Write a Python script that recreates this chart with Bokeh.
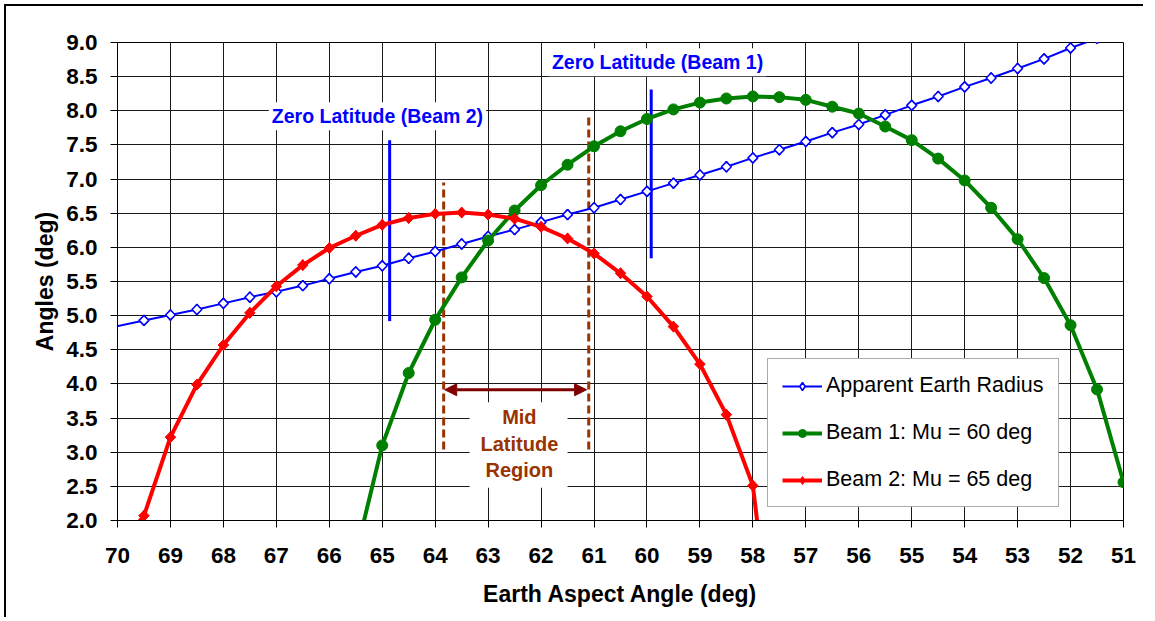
import math
from bokeh.plotting import figure
from bokeh.models import (Range1d, FixedTicker, Label, Arrow, NormalHead, Legend,
                          LegendItem, NumeralTickFormatter, BoxAnnotation)
from bokeh.embed import file_html
from bokeh.resources import INLINE

# ---------------- data ----------------
radius_x = [70.5, 69.5, 69.0, 68.5, 68.0, 67.5, 67.0, 66.5, 66.0, 65.5, 65.0, 64.5, 64.0,
            63.5, 63.0, 62.5, 62.0, 61.5, 61.0, 60.5, 60.0, 59.5, 59.0, 58.5, 58.0, 57.5,
            57.0, 56.5, 56.0, 55.5, 55.0, 54.5, 54.0, 53.5, 53.0, 52.5, 52.0, 51.5, 51.0]
radius_y = [4.76, 4.93, 5.01, 5.09, 5.18, 5.27, 5.35, 5.44, 5.54, 5.64, 5.73, 5.84, 5.94,
            6.05, 6.16, 6.26, 6.37, 6.48, 6.58, 6.70, 6.82, 6.94, 7.06, 7.18, 7.31, 7.43,
            7.55, 7.68, 7.80, 7.94, 8.08, 8.21, 8.35, 8.48, 8.62, 8.76, 8.92, 9.06, 9.21]

beam1_x = [65.5, 65.0, 64.5, 64.0, 63.5, 63.0, 62.5, 62.0, 61.5, 61.0, 60.5, 60.0, 59.5,
           59.0, 58.5, 58.0, 57.5, 57.0, 56.5, 56.0, 55.5, 55.0, 54.5, 54.0, 53.5, 53.0,
           52.5, 52.0, 51.5, 51.0]
beam1_y = [1.50, 3.10, 4.16, 4.94, 5.56, 6.10, 6.54, 6.91, 7.21, 7.48, 7.70, 7.88, 8.02,
           8.12, 8.18, 8.21, 8.20, 8.16, 8.06, 7.96, 7.77, 7.57, 7.30, 6.98, 6.58, 6.12,
           5.55, 4.86, 3.92, 2.56]

beam2_x = [70.0, 69.5, 69.0, 68.5, 68.0, 67.5, 67.0, 66.5, 66.0, 65.5, 65.0, 64.5, 64.0,
           63.5, 63.0, 62.5, 62.0, 61.5, 61.0, 60.5, 60.0, 59.5, 59.0, 58.5, 58.0, 57.5]
beam2_y = [1.60, 2.07, 3.22, 3.99, 4.57, 5.04, 5.43, 5.74, 5.99, 6.17, 6.33, 6.43, 6.49,
           6.51, 6.48, 6.42, 6.30, 6.13, 5.91, 5.62, 5.28, 4.84, 4.29, 3.55, 2.51, -0.70]

x_ticks = [70, 69, 68, 67, 66, 65, 64, 63, 62, 61, 60, 59, 58, 57, 56, 55, 54, 53, 52, 51]
y_ticks = [2.0, 2.5, 3.0, 3.5, 4.0, 4.5, 5.0, 5.5, 6.0, 6.5, 7.0, 7.5, 8.0, 8.5, 9.0]

series_names = ["Apparent Earth Radius", "Beam 1: Mu = 60 deg", "Beam 2: Mu = 65 deg"]

# zero-latitude markers and mid-latitude bounds (x positions, y extents)
zero_lat_x = [64.86, 59.92]
zero_lat_y0 = [4.92, 5.84]
zero_lat_y1 = [7.57, 8.31]
mid_lat_x = [63.84, 61.10]
mid_lat_y0 = [3.04, 3.04]
mid_lat_y1 = [6.95, 7.96]

FONT = "Liberation Sans"
BLUE, GREEN, RED = "#0000FF", "#008000", "#FF0000"
BROWN, DARKRED = "#993300", "#800000"

p = figure(width=1139, height=613, output_backend="svg", toolbar_location=None,
           x_range=Range1d(70, 51), y_range=Range1d(2.0, 9.0),
           min_border_left=111, min_border_right=22, min_border_top=36, min_border_bottom=99)
p.margin = (4, 0, 0, 4)
p.styles = {"border-left": "2px solid black", "border-top": "2px solid black"}

p.background_fill_color = "white"
p.border_fill_color = "white"
p.outline_line_color = "black"
p.outline_line_width = 1

for ax in (p.xaxis[0], p.yaxis[0]):
    ax.axis_line_color = "black"
    ax.major_tick_line_color = "black"
    ax.major_tick_out = 7
    ax.major_tick_in = 0
    ax.minor_tick_line_color = None
    ax.major_label_text_font = FONT
    ax.major_label_text_font_style = "bold"
    ax.major_label_text_font_size = "22.5px"
    ax.major_label_text_color = "black"
    ax.axis_label_text_font = FONT
    ax.axis_label_text_font_style = "bold"
    ax.axis_label_text_font_size = "23px"
    ax.axis_label_text_color = "black"

p.xaxis.ticker = FixedTicker(ticks=x_ticks)
p.yaxis.ticker = FixedTicker(ticks=y_ticks)
p.yaxis.formatter = NumeralTickFormatter(format="0.0")
p.xaxis.axis_label = "Earth Aspect Angle (deg)"
p.yaxis.axis_label = "Angles (deg)"
p.xaxis.major_label_standoff = 20
p.yaxis.major_label_standoff = 13
p.xaxis.axis_label_standoff = 15
p.yaxis.axis_label_standoff = 5

p.xgrid.grid_line_color = "#1a1a1a"
p.ygrid.grid_line_color = "#1a1a1a"
p.xgrid.grid_line_width = 1
p.ygrid.grid_line_width = 1

# white box behind mid-latitude text
p.add_layout(BoxAnnotation(left=63.35, right=61.50, bottom=2.48, top=3.73,
                           fill_color="white", fill_alpha=1.0, line_alpha=0, level="underlay"))

# zero-latitude vertical lines
p.segment(x0=zero_lat_x, y0=zero_lat_y0, x1=zero_lat_x, y1=zero_lat_y1,
          line_color=BLUE, line_width=3)
# mid-latitude dashed bounds
p.segment(x0=mid_lat_x, y0=mid_lat_y0, x1=mid_lat_x, y1=mid_lat_y1,
          line_color=BROWN, line_width=3, line_dash="8 4")

# series (diamond scatter used for legend; rotated squares drawn on top for shape)
rot = math.pi / 4
l1 = p.line(radius_x, radius_y, line_color=BLUE, line_width=2)
d1 = p.scatter(radius_x, radius_y, marker="diamond", size=10.5, line_color=BLUE,
               fill_color="white", line_width=1.6)
p.scatter(radius_x, radius_y, marker="square", angle=rot, size=7, line_color=BLUE,
          fill_color="white", line_width=1.6)
l2 = p.line(beam1_x, beam1_y, line_color=GREEN, line_width=4)
m2 = p.scatter(beam1_x, beam1_y, marker="circle", size=11, line_color=GREEN,
               fill_color=GREEN)
l3 = p.line(beam2_x, beam2_y, line_color=RED, line_width=4)
d3 = p.scatter(beam2_x, beam2_y, marker="diamond", size=11, line_color=RED,
               fill_color=RED)
p.scatter(beam2_x, beam2_y, marker="square", angle=rot, size=7.5, line_color=RED,
          fill_color=RED)

# arrow across mid-latitude region
p.add_layout(Arrow(start=NormalHead(size=12, fill_color=DARKRED, line_color=DARKRED),
                   end=NormalHead(size=12, fill_color=DARKRED, line_color=DARKRED),
                   x_start=63.82, y_start=3.915, x_end=61.14, y_end=3.915,
                   line_color=DARKRED, line_width=3))

# labels
for txt, x, y in [("Zero Latitude (Beam 2)", 65.09, 7.92), ("Zero Latitude (Beam 1)", 59.80, 8.71)]:
    p.add_layout(Label(x=x, y=y, text=txt, text_align="center", text_baseline="middle",
                       text_font=FONT, text_font_style="bold", text_font_size="19.5px",
                       text_color=BLUE, background_fill_color="white", padding=3))

for txt, y in [("Mid", 3.51), ("Latitude", 3.125), ("Region", 2.745)]:
    p.add_layout(Label(x=62.41, y=y, text=txt, text_align="center", text_baseline="middle",
                       text_font=FONT, text_font_style="bold", text_font_size="20px",
                       text_color=BROWN))

legend = Legend(items=[LegendItem(label=series_names[0], renderers=[l1, d1]),
                       LegendItem(label=series_names[1], renderers=[l2, m2]),
                       LegendItem(label=series_names[2], renderers=[l3, d3])],
                location=(650, 13), orientation="vertical",
                label_text_font=FONT, label_text_font_size="21.5px", label_text_color="black",
                glyph_width=40, glyph_height=20, label_height=20, label_standoff=4,
                spacing=22, padding=14, margin=0,
                border_line_color="#555555", border_line_width=1.5,
                background_fill_color="white", background_fill_alpha=1.0)
p.add_layout(legend)

open("out.html", "w").write(file_html(p, INLINE))
